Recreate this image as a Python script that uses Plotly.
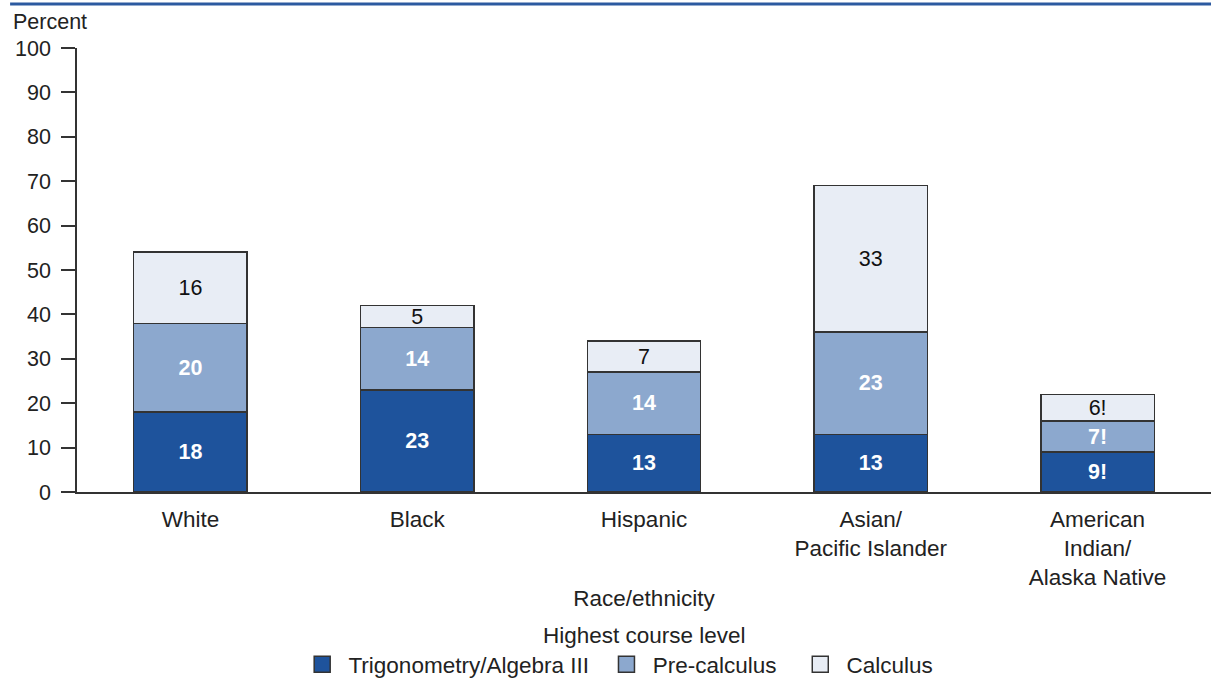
import plotly.graph_objects as go

categories = ["White", "Black", "Hispanic", "Asian/<br>Pacific Islander", "American<br>Indian/<br>Alaska Native"]
trig = [18, 23, 13, 13, 9]
precalc = [20, 14, 14, 23, 7]
calc = [16, 5, 7, 33, 6]
trig_labels = ["18", "23", "13", "13", "9!"]
precalc_labels = ["20", "14", "14", "23", "7!"]
calc_labels = ["16", "5", "7", "33", "6!"]
series_names = ["Trigonometry/Algebra III", "Pre-calculus", "Calculus"]
colors = ["#1E539C", "#8CA8CE", "#E8EDF5"]
y_ticks = [0, 10, 20, 30, 40, 50, 60, 70, 80, 90, 100]

FONT = "Liberation Sans, Arial, sans-serif"
FS = 21.5
LFS = 22.5
edge = dict(color="#333333", width=1.5)
NB = "\u00a0"

fig = go.Figure()
values = [trig, precalc, calc]
labels = [trig_labels, precalc_labels, calc_labels]
text_colors = ["white", "white", "#111111"]
templates = ["<b>%{text}</b>", "<b>%{text}</b>", "%{text}"]
for name, vals, lab, col, tc, tt in zip(series_names, values, labels, colors, text_colors, templates):
    fig.add_bar(x=categories, y=vals, name=name, text=lab, texttemplate=tt,
                marker=dict(color=col, line=edge), showlegend=False,
                textfont=dict(color=tc, size=21.5, family=FONT))

# legend proxies (square swatches)
trailing = [2, 3, 0]
for name, col, nt in zip(series_names, colors, trailing):
    label = NB + name + NB * nt
    fig.add_scatter(x=[None], y=[None], mode="markers", name=label,
                    marker=dict(symbol="square", size=16, color=col,
                                line=dict(color="#333333", width=1.5)))

fig.update_traces(selector=dict(type="bar"), textposition="inside", insidetextanchor="middle",
                  width=0.5, constraintext="none", textangle=0)

fig.update_layout(
    barmode="stack",
    width=1211, height=686,
    margin=dict(l=77, r=0, t=48, b=193),
    plot_bgcolor="white", paper_bgcolor="white",
    font=dict(family=FONT, size=FS, color="#222222"),
    xaxis=dict(showline=True, linecolor="#333333", linewidth=1.5, ticks="",
               ticklabelstandoff=6, automargin=False,
               title=dict(text="Race/ethnicity", standoff=1, font=dict(size=LFS)),
               tickfont=dict(size=LFS), showgrid=False),
    yaxis=dict(range=[0, 100], tickvals=y_ticks, showline=True, linecolor="#333333", linewidth=1.5,
               ticks="outside", ticklen=14, tickcolor="#333333", tickwidth=1.5,
               ticklabelstandoff=6, automargin=False,
               showgrid=False, zeroline=False, tickfont=dict(size=FS)),
    legend=dict(orientation="h", x=0.479, xanchor="center", y=-0.388, yanchor="middle",
                font=dict(size=LFS), traceorder="normal", itemsizing="trace"),
    showlegend=True,
)

fig.add_annotation(text="Highest course level", xref="paper", yref="paper", x=0.5, y=-0.323,
                   xanchor="center", yanchor="middle", showarrow=False, font=dict(size=LFS))
fig.add_annotation(text="Percent", xref="paper", yref="paper", x=-0.058, y=1.0, yshift=26,
                   xanchor="left", yanchor="middle", showarrow=False, font=dict(size=FS))
fig.add_shape(type="line", xref="paper", yref="paper", x0=-0.059, x1=1.0, y0=1.099, y1=1.099,
              line=dict(color="#2C5AA0", width=3))

fig.write_html("out.html", config={"displayModeBar": False},
               post_script="document.body.style.margin='0';document.body.style.overflow='hidden';")
